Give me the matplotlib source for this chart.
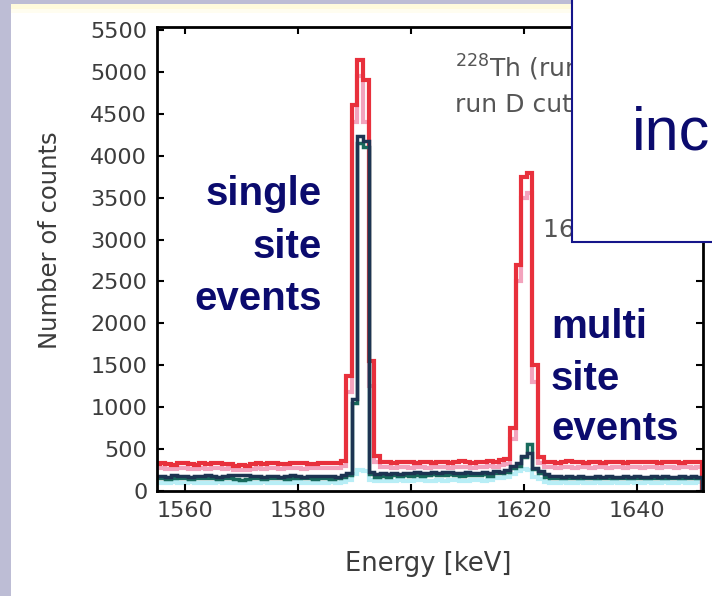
import numpy as np
import matplotlib
matplotlib.use("Agg")
import matplotlib.pyplot as plt
from matplotlib.patches import Rectangle

# 1 keV bins centred on 1555 ... 1651 keV
bin_edges = np.arange(1554.5, 1652.5, 1.0)

# total spectrum (red)
total_counts = [
    320, 330, 325, 310, 335, 330, 320, 315, 330, 325,
    330, 335, 320, 325, 300, 305, 300, 320, 330, 325,
    335, 330, 320, 325, 330, 335, 330, 320, 325, 330,
    335, 330, 340, 360,
    1370, 4600, 5140, 4900, 1550, 420,
    350, 345, 340, 345, 350, 345, 340, 350, 345, 340,
    345, 350, 340, 345, 355, 350, 340, 345, 350, 360, 350, 370,
    380, 750, 2700, 3750, 3800, 1500,
    400, 350, 345, 340, 345, 355, 350, 345, 340, 350,
    345, 340, 345, 350, 345, 340, 345, 350, 345, 350,
    345, 340, 345, 350, 345, 340, 345, 350, 345,
]

# second trace of the total spectrum (light red)
total_cut_counts = [
    270, 275, 265, 260, 270, 275, 265, 260, 270, 265,
    270, 275, 265, 270, 255, 250, 255, 265, 270, 265,
    275, 270, 265, 270, 275, 270, 265, 270, 275, 270,
    275, 270, 280, 300,
    1180, 4400, 4950, 4400, 1250, 350,
    290, 285, 280, 290, 285, 280, 290, 285, 280, 290,
    285, 290, 280, 285, 290, 285, 280, 290, 285, 300, 290, 310,
    320, 620, 2500, 3500, 3550, 1300,
    340, 290, 285, 280, 290, 285, 280, 290, 285, 280,
    290, 285, 280, 290, 285, 280, 290, 285, 280, 290,
    285, 280, 290, 285, 280, 290, 285, 280, 290,
]

# single site events (dark blue)
sse_counts = [
    175, 180, 170, 185, 175, 180, 170, 175, 180, 185,
    175, 170, 180, 185, 195, 190, 195, 180, 175, 170,
    180, 175, 170, 180, 185, 175, 170, 180, 175, 180,
    175, 180, 170, 190,
    210, 1100, 4230, 4180, 230, 200,
    210, 200, 215, 205, 220, 215, 225, 210, 220, 230,
    215, 225, 230, 220, 210, 225, 215, 220, 230, 210, 240, 230,
    250, 300, 330, 420, 450, 280,
    240, 200, 180, 175, 170, 175, 170, 175, 170, 170,
    175, 170, 175, 170, 170, 175, 170, 175, 170, 170,
    175, 170, 175, 170, 170, 175, 170, 175, 170,
]

# single site events, second trace (teal)
sse_cut_counts = [
    150, 155, 145, 160, 150, 155, 140, 150, 160, 155,
    150, 145, 155, 160, 140, 135, 140, 150, 155, 145,
    150, 160, 155, 145, 150, 160, 150, 155, 145, 150,
    155, 145, 150, 165,
    190, 1050, 4150, 4100, 200, 170,
    180, 170, 185, 175, 190, 180, 195, 180, 190, 200,
    185, 195, 200, 190, 180, 195, 185, 190, 200, 180, 220, 210,
    230, 280, 300, 400, 560, 260,
    210, 165, 155, 150, 155, 150, 155, 150, 150, 155,
    150, 155, 150, 150, 155, 150, 155, 150, 150, 155,
    150, 155, 150, 150, 155, 150, 155, 150, 155,
]

# background trace (light cyan)
bg_counts = [
    95, 100, 90, 105, 95, 100, 110, 95, 90, 100,
    95, 105, 100, 90, 95, 100, 95, 90, 100, 105,
    95, 100, 90, 95, 100, 105, 95, 90, 100, 95,
    100, 105, 95, 110,
    130, 200, 250, 240, 130, 120,
    120, 115, 125, 130, 120, 125, 135, 130, 120, 125,
    130, 125, 135, 130, 120, 125, 130, 135, 125, 130, 150, 160,
    170, 200, 240, 260, 250, 170,
    140, 105, 95, 100, 105, 95, 100, 105, 95, 100,
    105, 95, 100, 105, 95, 100, 105, 95, 100, 105,
    95, 100, 105, 95, 100, 105, 95, 100, 105,
]

x_ticks = [1560, 1580, 1600, 1620, 1640]
y_ticks = list(range(0, 6000, 500))

W, H = 712, 596
fig = plt.figure(figsize=(W / 100, H / 100), dpi=100)
fig.patch.set_facecolor("white")

# slide background strips
fig.add_artist(Rectangle((0, 0), 11 / W, 1, transform=fig.transFigure,
                         facecolor="#bdbdd5", edgecolor="none", zorder=0))
fig.add_artist(Rectangle((0, 1 - 4 / H), 1, 4 / H, transform=fig.transFigure,
                         facecolor="#bdbdd5", edgecolor="none", zorder=0))
fig.add_artist(Rectangle((11 / W, 1 - 9 / H), 1, 5 / H, transform=fig.transFigure,
                         facecolor="#fffbdc", edgecolor="none", zorder=0))
fig.add_artist(Rectangle((11 / W, 1 - 13 / H), 1, 4 / H, transform=fig.transFigure,
                         facecolor="#fffdf0", edgecolor="none", zorder=0))

ax = fig.add_axes([157 / W, 1 - 491 / H, (703 - 157) / W, (491 - 27) / H])

ax.stairs(bg_counts, bin_edges, color="#b8eef6", linewidth=3)
ax.stairs(total_cut_counts, bin_edges, color="#f3a3bd", linewidth=3)
ax.stairs(total_counts, bin_edges, color="#e8303c", linewidth=3)
ax.stairs(sse_cut_counts, bin_edges, color="#186a5c", linewidth=2.5)
ax.stairs(sse_counts, bin_edges, color="#1d3452", linewidth=2.5)

ax.set_xlim(1555, 1651.7)
ax.set_ylim(0, 5536)
ax.set_xticks(x_ticks)
ax.set_yticks(y_ticks)
ax.tick_params(direction="in", top=True, right=True, length=5, width=1.5,
               labelsize=16, labelcolor="#3c3c3c", pad=7)
for s in ax.spines.values():
    s.set_linewidth(2)
    s.set_color("black")

ax.set_xlabel("Energy [keV]", fontsize=18.5, color="#3c3c3c")
ax.set_ylabel("Number of counts", fontsize=17.5, color="#3c3c3c")
ax.xaxis.set_label_coords(0.496, -0.13)
ax.yaxis.set_label_coords(-0.174, 0.54)

# in-plot legend text, partly hidden behind the slide box
ax.text(455 / W, 1 - 77 / H, r"$^{228}$Th (run D)", transform=fig.transFigure,
        fontsize=18, color="#555555")
ax.text(455 / W, 1 - 112 / H, "run D cuts", transform=fig.transFigure,
        fontsize=18, color="#555555")
ax.text(543 / W, 1 - 237 / H, "1620 keV", transform=fig.transFigure,
        fontsize=18, color="#555555")

# slide annotations
label_font = ["Liberation Sans", "DejaVu Sans"]
navy = "#0b0b6e"
for line, yb in zip(["single", "site", "events"], [205, 258, 310]):
    fig.text(322 / W, 1 - yb / H, line, ha="right", va="baseline",
             fontsize=29, fontweight="bold", color=navy, family=label_font)
for line, yb in zip(["multi", "site", "events"], [338, 390, 440]):
    fig.text(551 / W, 1 - yb / H, line, ha="left", va="baseline",
             fontsize=29, fontweight="bold", color=navy, family=label_font)

fig.add_artist(Rectangle((572 / W, 1 - 242 / H), 0.5, 0.6, transform=fig.transFigure,
                         facecolor="white", edgecolor="#15158a", linewidth=1.5,
                         zorder=10))
fig.text(632 / W, 1 - 150 / H, "inc", ha="left", va="baseline", fontsize=44,
         color=navy, family=label_font, zorder=11)

fig.savefig("out.png", dpi=100)
